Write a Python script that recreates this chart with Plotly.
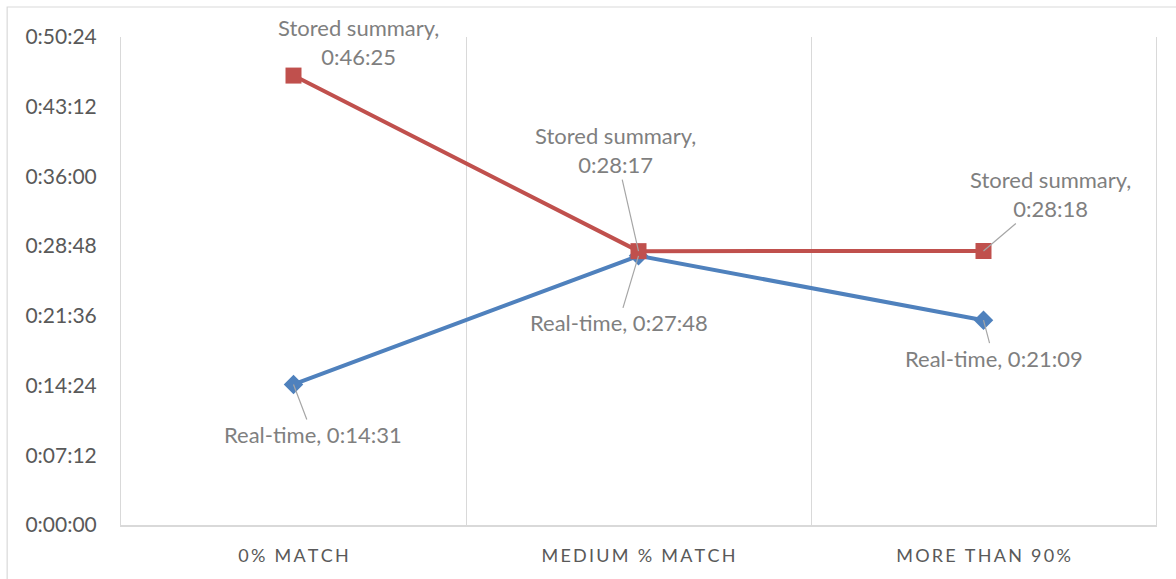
import plotly.graph_objects as go

# Chart data
categories = ["0% MATCH", "MEDIUM % MATCH", "MORE THAN 90%"]
stored_summary = ["0:46:25", "0:28:17", "0:28:18"]
real_time = ["0:14:31", "0:27:48", "0:21:09"]
y_tick_labels = ["0:00:00", "0:07:12", "0:14:24", "0:21:36", "0:28:48",
                 "0:36:00", "0:43:12", "0:50:24"]


def to_seconds(hms):
    h, m, s = (int(p) for p in hms.split(":"))
    return h * 3600 + m * 60 + s


stored_sec = [to_seconds(t) for t in stored_summary]
real_sec = [to_seconds(t) for t in real_time]
y_tick_vals = [to_seconds(t) for t in y_tick_labels]

# Spread-out uppercase category labels
spaced = ["\u2009".join(c) for c in categories]

RED = "#C0504D"
BLUE = "#4F81BD"
GRID = "#D9D9D9"
LABEL = "#7F7F7F"
AXIS_TXT = "#595959"
FONT = "Lato, 'Liberation Sans', sans-serif"

fig = go.Figure()
fig.add_trace(go.Scatter(
    x=spaced, y=real_sec, mode="lines+markers", name="Real-time",
    line=dict(color=BLUE, width=4),
    marker=dict(symbol="diamond", size=15, color=BLUE),
))
fig.add_trace(go.Scatter(
    x=spaced, y=stored_sec, mode="lines+markers", name="Stored summary",
    line=dict(color=RED, width=4),
    marker=dict(symbol="square", size=16, color=RED),
))

# Data labels (offsets in pixels from each point)
stored_offsets = [(65, -34, False), (-23, -101, True), (67, -57, True)]
real_offsets = [(19, 50, True), (-20, 67, True), (10, 38, True)]

for cat, val, txt, (dx, dy, arrow) in zip(spaced, stored_sec, stored_summary, stored_offsets):
    kw = dict(x=cat, y=val, text=f"Stored summary,<br>{txt}",
              font=dict(family=FONT, size=22, color=LABEL))
    if arrow:
        fig.add_annotation(**kw, showarrow=True, arrowhead=0, arrowwidth=1.2,
                           arrowcolor="#A6A6A6", ax=dx, ay=dy, standoff=0)
    else:
        fig.add_annotation(**kw, showarrow=False, xshift=dx, yshift=-dy)

for cat, val, txt, (dx, dy, arrow) in zip(spaced, real_sec, real_time, real_offsets):
    fig.add_annotation(x=cat, y=val, text=f"Real-time, {txt}",
                       font=dict(family=FONT, size=22, color=LABEL),
                       showarrow=True, arrowhead=0, arrowwidth=1.2,
                       arrowcolor="#A6A6A6", ax=dx, ay=dy, standoff=0)

# Outer chart border
fig.add_shape(type="rect", xref="paper", yref="paper",
              x0=-0.110, y0=-0.3, x1=1.3, y1=1.0615,
              line=dict(color=GRID, width=1.2), fillcolor="rgba(0,0,0,0)",
              layer="below")

fig.update_layout(
    width=1176, height=579,
    margin=dict(l=121, r=20, t=37, b=54),
    paper_bgcolor="white", plot_bgcolor="white",
    showlegend=False,
    font=dict(family=FONT, color=AXIS_TXT),
    xaxis=dict(
        type="category", range=[-0.5, 2.5],
        tickson="boundaries", showgrid=True, gridcolor=GRID, gridwidth=1,
        showline=True, linecolor=GRID, linewidth=1.5,
        ticks="", tickfont=dict(family=FONT, size=18, color=AXIS_TXT),
        ticklabelstandoff=14, zeroline=False, fixedrange=True,
    ),
    yaxis=dict(
        range=[0, 3024], tickvals=y_tick_vals, ticktext=y_tick_labels,
        showgrid=False, zeroline=False,
        showline=True, mirror=True, linecolor=GRID, linewidth=1,
        ticks="", tickfont=dict(family=FONT, size=21, color=AXIS_TXT),
        ticklabelstandoff=19, fixedrange=True,
    ),
)

fig.write_html("out.html")
